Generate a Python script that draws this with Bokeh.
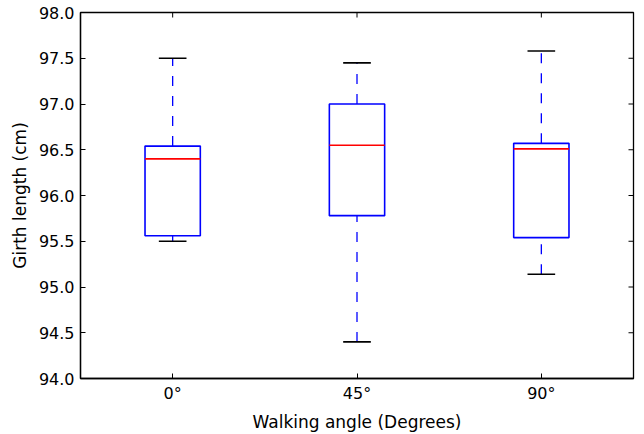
from bokeh.plotting import figure
from bokeh.models import ColumnDataSource, FactorRange, Range1d, FixedTicker, CustomJSTickFormatter
from bokeh.transform import dodge
from bokeh.embed import file_html
from bokeh.resources import INLINE

categories = ["0°", "45°", "90°"]
whisker_low = [95.50, 94.40, 95.14]
q1 = [95.56, 95.78, 95.54]
median = [96.40, 96.55, 96.51]
q3 = [96.54, 97.00, 96.57]
whisker_high = [97.50, 97.45, 97.58]
y_ticks = [94.0, 94.5, 95.0, 95.5, 96.0, 96.5, 97.0, 97.5, 98.0]

src = ColumnDataSource(dict(cat=categories, lo=whisker_low, q1=q1, med=median, q3=q3, hi=whisker_high))

FONT = "DejaVu Sans"
xr = FactorRange(factors=categories, range_padding=0)
p = figure(width=644, height=434, output_backend="svg", toolbar_location=None,
           x_range=xr, y_range=Range1d(y_ticks[0], y_ticks[-1]),
           min_border_left=80, min_border_right=11, min_border_top=12, min_border_bottom=55)
p.grid.visible = False
p.outline_line_color = "black"
p.outline_line_width = 1.3
p.background_fill_color = "white"
p.border_fill_color = "white"

BW = 0.3
CW = 0.15
# whiskers (dashed)
p.segment(x0="cat", y0="q3", x1="cat", y1="hi", source=src, line_color="blue", line_width=1.3, line_dash="10 10")
p.segment(x0="cat", y0="lo", x1="cat", y1="q1", source=src, line_color="blue", line_width=1.3, line_dash="10 10")
# caps
p.segment(x0=dodge("cat", -CW / 2, range=xr), x1=dodge("cat", CW / 2, range=xr), y0="hi", y1="hi",
          source=src, line_color="black", line_width=1.6)
p.segment(x0=dodge("cat", -CW / 2, range=xr), x1=dodge("cat", CW / 2, range=xr), y0="lo", y1="lo",
          source=src, line_color="black", line_width=1.6)
# boxes
p.vbar(x="cat", bottom="q1", top="q3", width=BW, source=src, fill_color=None, line_color="blue", line_width=1.6)
# median
p.segment(x0=dodge("cat", -BW / 2, range=xr), x1=dodge("cat", BW / 2, range=xr), y0="med", y1="med",
          source=src, line_color="red", line_width=1.6)

# mirrored inward ticks on right and top edges (clipped to frame)
tick_src_r = ColumnDataSource(dict(c=[categories[-1]] * len(y_ticks), y=y_ticks))
p.scatter(x=dodge("c", 0.5, range=xr), y="y", source=tick_src_r, marker="dash", size=10,
          line_color="black", line_width=1)
tick_src_t = ColumnDataSource(dict(c=categories, y=[y_ticks[-1]] * len(categories)))
p.scatter(x="c", y="y", source=tick_src_t, marker="dash", size=10, angle=1.5707963,
          line_color="black", line_width=1)

for ax in (p.xaxis[0], p.yaxis[0]):
    ax.major_tick_in = 5
    ax.major_tick_out = 0
    ax.minor_tick_in = 0
    ax.minor_tick_out = 0
    ax.axis_line_color = "black"
    ax.axis_line_width = 1.3
    ax.major_label_text_font = FONT
    ax.major_label_text_font_size = "16px"
    ax.major_label_text_color = "black"
    ax.axis_label_text_font = FONT
    ax.axis_label_text_font_size = "17px"
    ax.axis_label_text_font_style = "normal"
    ax.axis_label_text_color = "black"
    ax.major_tick_line_color = "black"

p.yaxis[0].ticker = FixedTicker(ticks=y_ticks)
p.yaxis[0].formatter = CustomJSTickFormatter(code="return tick.toFixed(1);")
p.yaxis[0].axis_label = "Girth length (cm)"
p.yaxis[0].axis_label_standoff = 6
p.yaxis[0].major_label_standoff = 6
p.xaxis[0].axis_label = "Walking angle (Degrees)"
p.xaxis[0].major_label_standoff = 5
p.xaxis[0].axis_label_standoff = 6

open("out.html", "w").write(file_html(p, INLINE))
